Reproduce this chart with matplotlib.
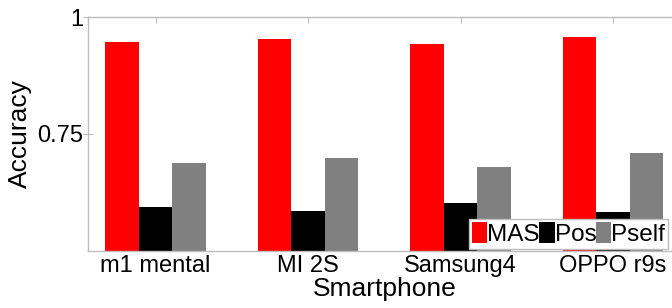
import matplotlib
matplotlib.use("Agg")
import matplotlib.pyplot as plt
import numpy as np

phones = ["m1 mental", "MI 2S", "Samsung4", "OPPO r9s"]
series_names = ["MAS", "Pos", "Pself"]
mas = [0.946, 0.952, 0.943, 0.957]
pos = [0.593, 0.586, 0.602, 0.583]
pself = [0.689, 0.699, 0.680, 0.709]
yticks = [0.75, 1.0]
yticklabels = ["0.75", "1"]
colors = ["#ff0000", "#000000", "#808080"]

plt.rcParams['font.family'] = ['Liberation Sans', 'DejaVu Sans']

W, H = 672, 308
fig = plt.figure(figsize=(W / 100, H / 100), dpi=100)
left, top, bottom = 88, 17, 251
xmin, xmax = 0.557, 4.443
px_per_unit = 152.5
width_px = (xmax - xmin) * px_per_unit
ax = fig.add_axes([left / W, 1 - bottom / H, width_px / W, (bottom - top) / H])

x = np.arange(1, len(phones) + 1)
bw = 0.22
for i, (vals, name) in enumerate(zip([mas, pos, pself], series_names)):
    ax.bar(x + (i - 1) * bw, vals, width=bw, color=colors[i], label=name,
           edgecolor='none', zorder=2)

ax.set_xlim(xmin, xmax)
ax.set_ylim(0.5, 1.0)
ax.set_xticks(x)
ax.set_xticklabels(phones, fontsize=17)
ax.set_yticks(yticks)
ax.set_yticklabels(yticklabels, fontsize=17)
ax.set_xlabel("Smartphone", fontsize=19, labelpad=0)
ax.set_ylabel("Accuracy", fontsize=19, labelpad=4)

for s in ax.spines.values():
    s.set_color('#bdbdbd')
    s.set_linewidth(1.0)
ax.spines['right'].set_visible(False)
ax.tick_params(axis='x', which='both', direction='in', length=4, top=True,
               bottom=True, color='#bdbdbd', pad=3)
ax.tick_params(axis='y', which='both', direction='inout', length=7,
               color='#bdbdbd', pad=0)

leg = ax.legend(loc='upper left', bbox_to_anchor=(469 / W, 1 - 219 / H),
                bbox_transform=fig.transFigure, ncol=3, fontsize=17.5,
                handlelength=0.62, handleheight=0.95, handletextpad=0.0,
                columnspacing=0.0, borderpad=0.12, borderaxespad=0,
                frameon=True, fancybox=False, framealpha=1)
leg.get_frame().set_edgecolor('#bdbdbd')
leg.get_frame().set_linewidth(1.0)

fig.savefig("out.png", dpi=100)
